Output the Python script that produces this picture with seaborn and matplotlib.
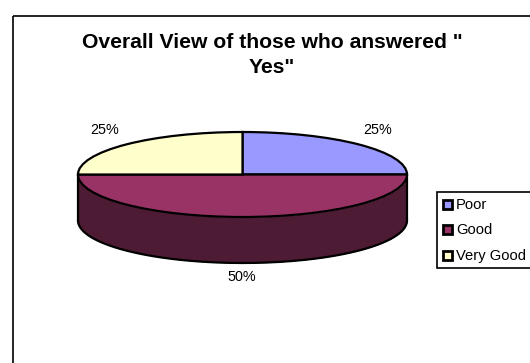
import matplotlib
matplotlib.use("Agg")
import matplotlib.pyplot as plt
from matplotlib.patches import Rectangle
import numpy as np
import seaborn as sns

categories = ["Poor", "Good", "Very Good"]
shares = [25, 50, 25]
share_labels = ["25%", "50%", "25%"]
slice_colors = ["#9999FF", "#993366", "#FFFFCC"]
wall_color = "#4D1B33"
chart_title = 'Overall View of those who answered "\nYes"'

sns.set_theme(style="white")
plt.rcParams["font.family"] = ["Liberation Sans", "DejaVu Sans"]

W, H = 530, 363
fig = plt.figure(figsize=(W / 100, H / 100), dpi=100, facecolor="white")

# Full-figure overlay for the chart frame, title and legend box
over = fig.add_axes([0, 0, 1, 1], zorder=3)
over.set_xlim(0, W)
over.set_ylim(H, 0)
over.axis("off")
over.patch.set_alpha(0)

frame_kw = dict(color="black", lw=1.2, solid_capstyle="butt")
over.plot([12.5, 12.5], [H, 15.5], **frame_kw)
over.plot([12.5, W], [15.5, 15.5], **frame_kw)

over.text(272, 55, chart_title, ha="center", va="center", fontsize=15.2,
          fontweight="bold", color="black", linespacing=1.42)

# Flattened pie: the axes is stretched so the unit circle becomes an ellipse
cx, cy, rx, ry, depth = 242.5, 174.5, 164.5, 42.5, 46
ax = fig.add_axes([(cx - rx) / W, 1 - (cy + ry) / H, 2 * rx / W, 2 * ry / H])
wedges, _ = ax.pie(
    shares,
    colors=slice_colors,
    startangle=90,
    counterclock=False,
    radius=1,
    wedgeprops=dict(edgecolor="black", linewidth=1.6),
)
ax.set_aspect("auto")
ax.set_xlim(-1, 1)
ax.set_ylim(-1, 1)
ax.patch.set_alpha(0)
for artist in wedges:
    artist.set_clip_on(False)

# Side wall below the front half of the rim
t = np.linspace(np.pi, 2 * np.pi, 200)
wall_depth = depth / ry
ax.fill_between(np.cos(t), np.sin(t), np.sin(t) - wall_depth, color=wall_color,
                lw=0, zorder=0, clip_on=False)
ax.plot(np.cos(t), np.sin(t) - wall_depth, color="black", lw=1.6, zorder=0.5, clip_on=False)
for side in (-1, 1):
    ax.plot([side, side], [0, -wall_depth], color="black", lw=1.6, zorder=0.5, clip_on=False)

# Percentage labels
for (lx, ly), label in zip([(378, 130), (242, 277), (105, 130)], share_labels):
    over.text(lx, ly, label, ha="center", va="center", fontsize=10.4, color="black")

# Legend box with hand-placed swatches
over.add_patch(Rectangle((436.5, 192), 100, 76, fc="white", ec="black", lw=1.2))
for name, color, y in zip(categories, slice_colors, [205, 230, 256]):
    over.add_patch(Rectangle((442.5, y - 5), 9, 9, fc=color, ec="black", lw=2))
    over.text(456, y, name, ha="left", va="center", fontsize=10.6, color="black")

fig.savefig("out.png", dpi=100, facecolor="white")
